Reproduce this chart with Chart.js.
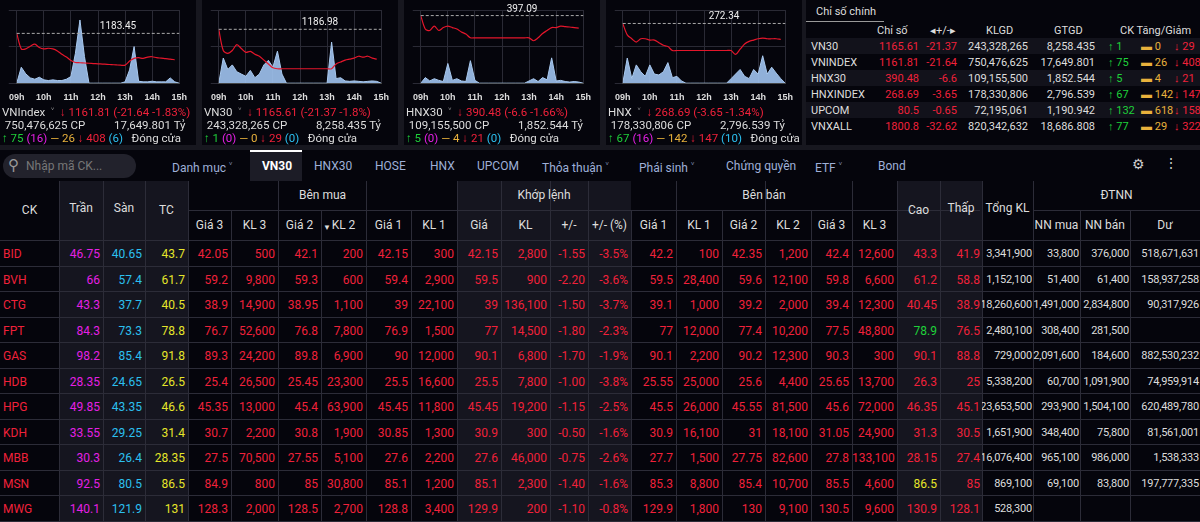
<!DOCTYPE html>
<html><head><meta charset="utf-8">
<script src="https://cdn.jsdelivr.net/npm/chart.js@4.4.0/dist/chart.umd.min.js"></script>
<style>
body{margin:0;width:1200px;height:522px;background:#17171f;font-family:Roboto,"Noto Sans",sans-serif;overflow:hidden;position:relative;color:#ddd}
.mini{position:absolute;top:0;width:196px;height:145px;background:#05050c;overflow:hidden}
.mini .cv{position:absolute;left:0;top:0;width:196px;height:112px}
.mini .t{position:absolute;left:2px;font-size:11.5px;white-space:nowrap;color:#ddd}
.red{color:#f0213a}.grn{color:#1fd13a}.yel{color:#e8b13c}.mag{color:#e520e5}.cy{color:#2cc0f0}.tcy{color:#e6e62a}
#idx{position:absolute;left:806px;top:0;width:394px;height:145px;background:#05050c;font-size:11px}
#idx div{position:absolute;white-space:nowrap}
#tabs{position:absolute;left:0;top:150px;width:1200px;height:31px;background:#05050c;font-size:12px}
#tabs span{position:absolute;top:9px;color:#9fb0d8}
#tbl{position:absolute;left:0;top:181px;width:1200px;height:341px;background:#05050c}
.c{position:absolute;font-size:12px;white-space:nowrap;text-align:right;box-sizing:border-box;padding-right:3px}
.clip{overflow:hidden;direction:rtl;padding-right:2px}
.sm{font-size:11px;padding-right:1px;letter-spacing:-0.2px}
.h{position:absolute;font-size:12px;color:#ddd;text-align:center;box-sizing:border-box}
</style></head><body>
<div id="m0" class="mini" style="left:0"></div>
<div id="m1" class="mini" style="left:202px"></div>
<div id="m2" class="mini" style="left:404px"></div>
<div id="m3" class="mini" style="left:606px"></div>
<div id="idx"></div>
<div id="tabs"></div>
<div id="tbl"></div>
<script>
// minutes from 09:00, every 10 minutes
const times=[0,10,20,30,40,50,60,70,80,90,100,110,120,130,140,150,160,170,180,190,200,210,220,230,240,250,260,270,280,290,300,310,320,330,340,350,360];
const timeLabels=['09h','10h','11h','12h','13h','14h','15h'];
const vnindexLine=[1183.45,1172,1172,1174,1175.5,1173,1172,1172.5,1172,1170.5,1168,1166,1163.5,1162,1161.8,1161.6,1161.4,1161.2,1161,1160.8,1160.6,1160.4,1160.2,1160,1160,1163,1165,1165.5,1165,1166,1166.2,1165.5,1165.2,1164.8,1164.5,1164,null];
const vnindexVol=[0,24,14,8,6,9,5,4,5,4,4,6,10,45,95,40,0,0,0,0,0,0,0,0,2,20,55,3,2,2,3,2,2,2,8,2,0];
const vn30Line=[1186.98,1176,1174.5,1176,1179,1177,1175,1175.5,1174,1173,1171,1169,1167,1166.5,1166.5,1166.5,1166.5,1166.5,1166.5,1166.5,1166.5,1166.5,1166.5,1166.5,1166.5,1166.5,1169,1170,1171,1171.5,1172,1173,1172.5,1173,1172,1171.5,null];
const vn30Vol=[0,55,30,40,25,20,15,28,12,20,40,50,35,70,20,0,0,0,0,0,0,0,0,0,0,90,10,12,5,4,5,4,3,4,5,4,0];
const hnx30Line=[397.09,392.5,392,393.5,392,393,393.5,393,392.5,391.5,390.8,389.5,389.5,389.5,389.5,389.5,389.5,389.5,389.5,389.5,389.5,389.5,389.5,389.5,389.5,388.5,389.5,391,392,393,393,393.5,393.3,393.2,393,392.8,null];
const hnx30Vol=[0,10,4,8,5,3,35,5,8,4,3,40,5,0,0,0,0,0,0,0,0,0,0,0,4,8,3,10,6,45,4,5,3,2,3,2,0];
const hnxLine=[272.34,270.6,270,269.5,270,270,269.8,269.8,269.4,269,268.8,268.2,268.2,268.2,268.2,268.2,268.2,268.2,268.2,268.2,268.2,268.2,268.2,268.2,268.2,267.6,268.4,269.2,269.6,269.8,270,270.1,270,270,270,269.9,null];
const hnxVol=[0,55,10,40,25,15,40,20,18,25,45,12,15,5,0,0,0,0,0,0,0,0,0,0,10,20,30,15,10,30,20,60,20,35,22,10,0];
const miniNames=['VNIndex','VN30','HNX30','HNX'];
const miniRef=[1183.45,1186.98,397.09,272.34];
const miniRange=[[1146.7,1200.7],[1159,1197],[374,399],[263.2,274.4]];
const volMax=[110,160,130,160];
const miniLines=[vnindexLine,vn30Line,hnx30Line,hnxLine];
const miniVols=[vnindexVol,vn30Vol,hnx30Vol,hnxVol];
const miniTxt=[
 ['↓ 1161.81 (-21.64 -1.83%)','750,476,625 CP','17,649.801 Tỷ',['75','16','26','408','6']],
 ['↓ 1165.61 (-21.37 -1.8%)','243,328,265 CP','8,258.435 Tỷ',['1','0','0','29','0']],
 ['↓ 390.48 (-6.6 -1.66%)','109,155,500 CP','1,852.544 Tỷ',['5','0','4','21','0']],
 ['↓ 268.69 (-3.65 -1.34%)','178,330,806 CP','2,796.539 Tỷ',['67','16','142','147','10']]];

const refLine={id:'refLine',afterDatasetsDraw(ch){const r=ch.options.plugins.refLine;if(!r)return;const y=ch.scales.y.getPixelForValue(r.v);const c=ch.ctx;const a=ch.chartArea;c.save();c.setLineDash([3,2]);c.strokeStyle='#aaa';c.lineWidth=1;c.beginPath();c.moveTo(a.left,y);c.lineTo(a.right,y);c.stroke();c.setLineDash([]);c.fillStyle='#eee';c.font='10px Roboto';c.textAlign='center';c.fillText(r.v.toFixed(2),(a.left+a.right)/2+20,y-4);c.restore();}};

for(let i=0;i<4;i++){
 const el=document.getElementById('m'+i);
 const cv=document.createElement('canvas');cv.className='cv';cv.width=196;cv.height=112;el.appendChild(cv);
 new Chart(cv,{data:{labels:times,datasets:[
  {type:'line',data:miniLines[i],borderColor:'#e4162b',borderWidth:1.2,pointRadius:0,yAxisID:'y',tension:0.3,order:1},
  {type:'line',data:miniVols[i],borderColor:'#a9c9ef',backgroundColor:'rgba(160,195,240,0.9)',borderWidth:1,fill:'origin',pointRadius:0,yAxisID:'v',order:2}]},
  options:{animation:false,responsive:false,devicePixelRatio:1,layout:{padding:{left:4,right:6,top:10,bottom:0}},
  plugins:{legend:{display:false},tooltip:{enabled:false},refLine:{v:miniRef[i]}},
  scales:{x:{type:'linear',min:0,max:360,grid:{color:'#2a2a35',drawTicks:false},border:{color:'#444'},ticks:{stepSize:60,color:'#ddd',font:{size:9,weight:'bold'},padding:9,maxRotation:0,minRotation:0,autoSkip:false,callback:v=>timeLabels[v/60]}},
   y:{min:miniRange[i][0],max:miniRange[i][1],display:true,grid:{color:'#2a2a35'},ticks:{display:false,count:3},border:{display:false}},
   v:{min:0,max:volMax[i],display:false}}},plugins:[refLine]});
 const t=miniTxt[i];
 el.insertAdjacentHTML('beforeend',`<div class="t" style="top:104px">${miniNames[i]} <span style="color:#aaa">&nbsp;˅&nbsp;</span> <span class="red">${t[0]}</span></div>
 <div class="t" style="top:118px">&nbsp;${t[1]}<span style="position:absolute;left:112px">${t[2]}</span></div>
 <div class="t" style="top:131px"><span class="grn">↑ ${t[3][0]}</span> <span class="mag">(${t[3][1]})</span> <span class="yel">— ${t[3][2]}</span> <span class="red">↓ ${t[3][3]}</span> <span class="cy">(${t[3][4]})</span> &nbsp; Đóng cửa</div>`);
}

// Index summary
const idxNames=['VN30','VNINDEX','HNX30','HNXINDEX','UPCOM','VNXALL'];
const idxVal=['1165.61','1161.81','390.48','268.69','80.5','1800.8'];
const idxChg=['-21.37','-21.64','-6.6','-3.65','-0.65','-32.62'];
const idxKLGD=['243,328,265','750,476,625','109,155,500','178,330,806','72,195,061','820,342,632'];
const idxGTGD=['8,258.435','17,649.801','1,852.544','2,796.539','1,190.942','18,686.808'];
const idxUp=['1','75','5','67','132','77'];
const idxEq=['0','26','4','142','618','29'];
const idxDn=['29','408','21','147','158','322'];
let h='<div style="left:10px;top:5px;color:#ddd">Chỉ số chính</div><div style="left:0;top:21px;width:78px;border-top:1px solid #999"></div>';
h+='<div style="left:71px;top:24px">Chỉ số</div><div style="left:124px;top:24px">◂+/-▸</div><div style="left:180px;top:24px">KLGD</div><div style="left:248px;top:24px">GTGD</div><div style="left:314px;top:24px">CK Tăng/Giảm</div>';
for(let r=0;r<6;r++){const y=40+r*16;
 h+=`<div style="left:0;top:${y-2}px;width:394px;height:16px;background:${r%2?'#05050c':'#12121b'}"></div>
 <div style="left:5px;top:${y}px">${idxNames[r]}</div><div class="red" style="right:281px;top:${y}px">${idxVal[r]}</div><div class="red" style="right:243px;top:${y}px">${idxChg[r]}</div>
 <div style="right:172px;top:${y}px">${idxKLGD[r]}</div><div style="right:105px;top:${y}px">${idxGTGD[r]}</div>
 <div class="grn" style="left:302px;top:${y}px">↑ ${idxUp[r]}</div><div class="yel" style="left:335px;top:${y}px">▬ ${idxEq[r]}</div><div class="red" style="left:368px;top:${y}px">↓ ${idxDn[r]}</div>`;}
document.getElementById('idx').innerHTML=h;

// Tabs
const tabs=[['Danh mục  ˅',172],['VN30',262],['HNX30',314],['HOSE',375],['HNX',430],['UPCOM',477],['Thỏa thuận  ˅',542],['Phái sinh  ˅',639],['Chứng quyền',726],['ETF  ˅',815],['Bond',878]];
let th='<div style="position:absolute;left:3px;top:4px;width:133px;height:24px;border-radius:12px;background:#22222c"></div><span style="left:8px;top:6px;color:#999;font-size:15px">⚲</span><span style="left:26px;color:#777">Nhập mã CK...</span>';
th+='<div style="position:absolute;left:250px;top:0;width:52px;height:31px;background:#1c1c26;border-top:2px solid #fff;box-sizing:border-box"></div>';
tabs.forEach(([t,x])=>th+=`<span style="left:${x}px;${t==='VN30'?'color:#fff;font-weight:bold':''}">${t}</span>`);
th+='<span style="left:1132px;color:#ccc;font-size:14px;top:6px">⚙</span><span style="left:1164px;color:#ccc;font-size:14px;top:5px">⋮</span>';
document.getElementById('tabs').innerHTML=th;

// Board
const sym=['BID','BVH','CTG','FPT','GAS','HDB','HPG','KDH','MBB','MSN','MWG'];
const tran=['46.75','66','43.3','84.3','98.2','28.35','49.85','33.55','30.3','92.5','140.1'];
const san=['40.65','57.4','37.7','73.3','85.4','24.65','43.35','29.25','26.4','80.5','121.9'];
const tc=['43.7','61.7','40.5','78.8','91.8','26.5','46.6','31.4','28.35','86.5','131'];
const buy=[['42.05','500','42.1','200','42.15','300'],['59.2','9,800','59.3','600','59.4','2,900'],['38.9','14,900','38.95','1,100','39','22,100'],['76.7','52,600','76.8','7,800','76.9','1,500'],['89.3','24,200','89.8','6,900','90','12,000'],['25.4','26,500','25.45','23,300','25.5','16,600'],['45.35','13,000','45.4','63,900','45.45','11,800'],['30.7','2,200','30.8','1,900','30.85','1,300'],['27.5','70,500','27.55','5,100','27.6','2,200'],['84.9','800','85','30,800','85.1','1,200'],['128.3','2,000','128.5','2,700','128.8','3,400']];
const match=[['42.15','2,800','-1.55','-3.5%'],['59.5','900','-2.20','-3.6%'],['39','136,100','-1.50','-3.7%'],['77','14,500','-1.80','-2.3%'],['90.1','6,800','-1.70','-1.9%'],['25.5','7,800','-1.00','-3.8%'],['45.45','19,200','-1.15','-2.5%'],['30.9','300','-0.50','-1.6%'],['27.6','46,000','-0.75','-2.6%'],['85.1','2,300','-1.40','-1.6%'],['129.9','200','-1.10','-0.8%']];
const sell=[['42.2','100','42.35','1,200','42.4','12,600'],['59.5','28,400','59.6','12,100','59.8','6,600'],['39.1','1,000','39.2','2,000','39.4','12,300'],['77','12,000','77.4','10,200','77.5','48,800'],['90.1','2,200','90.2','12,300','90.3','300'],['25.55','25,000','25.6','4,400','25.65','13,700'],['45.5','26,000','45.55','81,500','45.6','72,000'],['30.9','16,100','31','18,100','31.05','24,900'],['27.7','1,500','27.75','82,600','27.8','133,100'],['85.3','8,800','85.4','10,700','85.5','4,600'],['129.9','1,800','130','9,100','130.5','9,600']];
const cao=['43.3','61.2','40.45','78.9','90.1','26.3','46.35','31.3','28.15','86.5','130.9'];
const thap=['41.9','58.8','38.9','76.5','88.8','25','45.1','30.5','27.4','85','128.1'];
const tongKL=['3,341,900','1,152,100','18,260,600','2,480,100','729,000','5,338,200','23,653,500','1,651,900','16,076,400','869,100','528,300'];
const nnMua=['33,800','51,400','1,491,000','308,400','2,091,600','60,700','293,900','348,400','965,100','69,100',''];
const nnBan=['376,000','61,400','2,834,800','281,500','184,600','1,091,900','1,504,100','75,800','986,000','83,800',''];
const du=['518,671,631','158,937,258','90,317,926','','882,530,232','74,959,914','620,489,780','81,561,001','1,538,333','197,777,335',''];

const colX=[0,59,103,145,188,231,278,321,366,411,457,501,550,588,631,676,722,765,811,852,897,940,982,1033,1080,1130,1200];
let b='';
for(let c=0;c<26;c++){const sh=[1,2,3,10,11,12,13,20,21].includes(c);if(sh)b+=`<div style="position:absolute;left:${colX[c]}px;top:0;width:${colX[c+1]-colX[c]}px;height:341px;background:#15151f"></div>`;}
for(let c=1;c<26;c++){const top=[5,7,9,14,16,18,24,25].includes(c)?29:0;b+=`<div style="position:absolute;left:${colX[c]}px;top:${top}px;width:1px;height:${341-top}px;background:#2c2c38"></div>`;}
b+=`<div style="position:absolute;left:188px;top:29px;width:792px;height:1px;background:#2c2c38"></div><div style="position:absolute;left:1033px;top:29px;width:167px;height:1px;background:#2c2c38"></div>`;
for(let r=0;r<=11;r++)b+=`<div style="position:absolute;left:0;top:${59+r*25.5}px;width:1200px;height:1px;background:#2c2c38"></div>`;
const hd=(t,c,top,hgt,span=1)=>`<div class="h" style="left:${colX[c]}px;width:${colX[c+span]-colX[c]}px;top:${top}px;line-height:${hgt}px">${t}</div>`;
b+=hd('CK',0,0,59)+hd('Trần',1,0,55)+hd('Sàn',2,0,55)+hd('TC',3,0,59)+hd('Bên mua',4,0,29,6)+hd('Khớp lệnh',10,0,29,4)+hd('Bên bán',14,0,29,6)+hd('Cao',20,0,59)+hd('Thấp',21,0,55)+hd('Tổng KL',22,0,55)+hd('ĐTNN',23,0,29,3);
['Giá 3','KL 3','Giá 2','KL 2','Giá 1','KL 1','Giá','KL','+/-','+/- (%)','Giá 1','KL 1','Giá 2','KL 2','Giá 3','KL 3'].forEach((t,i)=>b+=hd(t,4+i,29,30));
b+=hd('NN mua',23,29,30)+hd('NN bán',24,29,30)+hd('Dư',25,29,30);
b+='<div style="position:absolute;left:323px;top:42px;color:#ddd;font-size:8px">▼</div>';
const cell=(t,c,r,cls,extra='')=>`<div class="c ${cls}" style="left:${colX[c]}px;width:${colX[c+1]-colX[c]}px;top:${66+r*25.5}px;${extra}">${t}</div>`;
for(let r=0;r<11;r++){
 b+=`<div class="c red" style="left:3px;top:${66+r*25.5}px;text-align:left">${sym[r]}</div>`;
 b+=cell(tran[r],1,r,'mag')+cell(san[r],2,r,'cy')+cell(tc[r],3,r,'tcy');
 buy[r].forEach((v,i)=>b+=cell(v,4+i,r,'red'));
 match[r].forEach((v,i)=>b+=cell(v,10+i,r,'red'));
 sell[r].forEach((v,i)=>b+=cell(v,14+i,r,'red'));
 const cc=r===3?'grn':(r===9?'tcy':'red');
 b+=cell(cao[r],20,r,cc)+cell(thap[r],21,r,'red','padding-right:2px');
 b+=cell(tongKL[r],22,r,'clip sm','color:#ddd')+cell(nnMua[r],23,r,'clip sm','color:#ddd')+cell(nnBan[r],24,r,'clip sm','color:#ddd')+cell(du[r],25,r,'clip sm','color:#ddd');
}
document.getElementById('tbl').innerHTML=b;
</script></body></html>
